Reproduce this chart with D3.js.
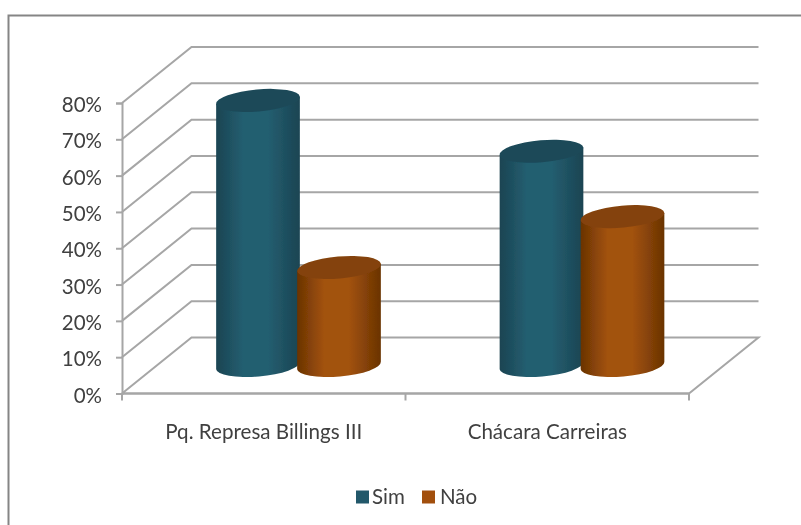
<!DOCTYPE html>
<html><head><meta charset="utf-8">
<script src="https://cdn.jsdelivr.net/npm/d3@7"></script>
<style>html,body{margin:0;padding:0;background:#fff}svg{display:block}text{font-family:Lato,"Open Sans",sans-serif;fill:#404040}</style>
</head><body><svg id="c" width="801" height="525"></svg>
<script>
const categories = ["Pq. Represa Billings III", "Chácara Carreiras"];
const seriesNames = ["Sim", "Não"];
const simValues = [73, 59];
const naoValues = [27, 41];
const yTicks = [0,10,20,30,40,50,60,70,80];

const svg = d3.select("#c");
const defs = svg.append("defs");
defs.append("filter").attr("id","soft").attr("x","-5%").attr("y","-5%").attr("width","110%").attr("height","110%")
  .append("feGaussianBlur").attr("stdDeviation",0.45);
const root = svg.append("g").attr("filter","url(#soft)");

const colors = {
  Sim:{edge:"#1a4452",mid:"#245e70",top:"#1b4a59",swatch:"#22596b"},
  Não:{edge:"#6a3303",mid:"#a2520c",top:"#84430a",swatch:"#a2500e"}
};
for (const s of seriesNames) {
  const g = defs.append("linearGradient").attr("id","g"+s).attr("x1",0).attr("x2",1).attr("y1",0).attr("y2",0);
  [[0,colors[s].edge],[.32,colors[s].mid],[.62,colors[s].mid],[1,colors[s].edge]].forEach(([o,c])=>
    g.append("stop").attr("offset",o).attr("stop-color",c));
}

// frame
root.append("path").attr("d","M8.5,525V15.5H801").attr("fill","none").attr("stroke","#858585").attr("stroke-width",2);

// scales
const depth = {x:69.5, y:-56};
const x0 = d3.scaleBand().domain(categories).range([122,689]);
const y = d3.scaleLinear().domain([0,80]).range([393.5,103]);
const plotRight = x0.range()[1];

// gridlines
const grid = root.append("g").attr("fill","none").attr("stroke","#a6a6a6").attr("stroke-width",2);
yTicks.forEach(t=>{
  const p = d3.path();
  p.moveTo(x0.range()[0], y(t));
  p.lineTo(x0.range()[0]+depth.x, y(t)+depth.y);
  p.lineTo(plotRight+depth.x, y(t)+depth.y);
  if (t===0) { p.lineTo(plotRight, y(t)); p.closePath(); }
  grid.append("path").attr("d",p.toString());
});

// axes
const axL = root.append("g").attr("transform",`translate(${x0.range()[0]},0)`)
  .call(d3.axisLeft(y).tickValues(yTicks).tickFormat(d=>d+"%").tickSize(6).tickPadding(14));
const axB = root.append("g").attr("transform",`translate(0,${y(0)})`)
  .call(d3.axisBottom(x0).tickSize(0).tickPadding(31));
[...x0.domain().map(c=>x0(c)), plotRight].forEach(px=>
  axB.append("line").attr("x1",px).attr("x2",px).attr("y1",0).attr("y2",7).attr("stroke","#a6a6a6").attr("stroke-width",2));
[axL,axB].forEach(a=>{a.selectAll("path.domain,line").attr("stroke","#a6a6a6").attr("stroke-width",2);});
axL.selectAll("text").style("font-size","20.5px").attr("dy","0.42em");
axB.selectAll("text").style("font-size","20.6px").attr("dy","0.71em");
axB.select(".domain").attr("d",`M${x0.range()[0]},0H${plotRight}`);

// cylinders
const rx = 42, ry = 11, tilt = -5, baseY = 365.5;
const hs = d3.scaleLinear().domain([0,80]).range([0, y(0)-y(80)]);
const dx = rx*Math.cos(tilt*Math.PI/180), dy = rx*Math.sin(tilt*Math.PI/180);
const offset = {Sim:-40.5, Não:40.5};
const series = [["Sim",simValues],["Não",naoValues]];
categories.forEach((cat,i)=>{
  const cx0 = x0(cat)+x0.bandwidth()/2+depth.x/2;
  series.forEach(([name,vals])=>{
    const cx = cx0+offset[name], topY = baseY-hs(vals[i]);
    const g = root.append("g");
    g.append("path").attr("fill",`url(#g${name})`)
      .attr("d",`M${cx-dx},${topY-dy}L${cx+dx},${topY+dy}L${cx+dx},${baseY+dy}A${rx},${ry} ${tilt} 0 1 ${cx-dx},${baseY-dy}Z`);
    g.append("ellipse").attr("cx",cx).attr("cy",topY).attr("rx",rx).attr("ry",ry)
      .attr("transform",`rotate(${tilt} ${cx} ${topY})`).attr("fill",colors[name].top);
  });
});

// legend
const legend = root.append("g");
const legendX = {Sim:356, Não:422};
const legendGap = {Sim:16, Não:18};
seriesNames.forEach(s=>{
  legend.append("rect").attr("x",legendX[s]).attr("y",490.5).attr("width",13).attr("height",13).attr("fill",colors[s].swatch);
  legend.append("text").attr("x",legendX[s]+legendGap[s]).attr("y",504).style("font-size","20.5px").text(s);
});
</script></body></html>
